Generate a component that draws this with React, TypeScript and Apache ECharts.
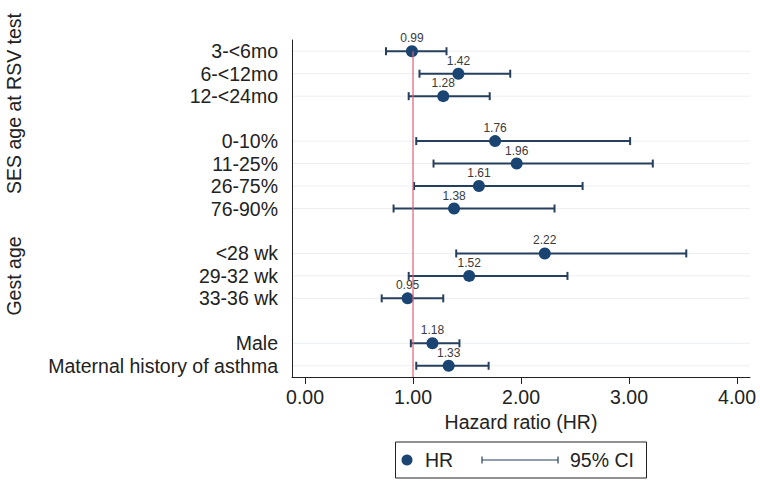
import React, { useEffect, useRef } from "react";
import * as echarts from "echarts";

const categories = [
  "3-<6mo",
  "6-<12mo",
  "12-<24mo",
  "0-10%",
  "11-25%",
  "26-75%",
  "76-90%",
  "<28 wk",
  "29-32 wk",
  "33-36 wk",
  "Male",
  "Maternal history of asthma",
];
const rowPositions = [0, 1, 2, 4, 5, 6, 7, 9, 10, 11, 13, 14];
const hr = [0.99, 1.42, 1.28, 1.76, 1.96, 1.61, 1.38, 2.22, 1.52, 0.95, 1.18, 1.33];
const ciLow = [0.75, 1.06, 0.96, 1.03, 1.19, 1.01, 0.82, 1.4, 0.96, 0.71, 0.98, 1.03];
const ciHigh = [1.31, 1.9, 1.71, 3.01, 3.22, 2.57, 2.31, 3.53, 2.43, 1.28, 1.43, 1.7];
const xTicks = [0, 1, 2, 3, 4];
const refValue = 1;
const groupTitles = ["SES age at RSV test", "Gest age"];
const legendLabels = ["HR", "95% CI"];

const FONT = "'Liberation Sans', Arial, sans-serif";
const NAVY = "#1a4573";
const CI_COLOR = "#263f5c";
const RED = "#de5f78";

export default function App() {
  const ref = useRef<HTMLDivElement>(null);

  useEffect(() => {
    if (!ref.current) return;
    const chart = echarts.init(ref.current, null, { renderer: "svg" });

    const ciData = rowPositions.map((r, i) => [ciLow[i], ciHigh[i], r]);
    const pointData = rowPositions.map((r, i) => [hr[i], r]);

    const option: any = {
      animation: false,
      backgroundColor: "#ffffff",
      textStyle: { fontFamily: FONT },
      grid: { left: 292, top: 40, width: 458, height: 337, containLabel: false },
      xAxis: {
        type: "value",
        min: -0.1204,
        max: 4.12,
        name: "Hazard ratio (HR)",
        nameLocation: "middle",
        nameGap: 31,
        nameTextStyle: { fontSize: 19.5, color: "#222", fontFamily: FONT },
        axisLine: { show: true, onZero: false, lineStyle: { color: "#222", width: 1 } },
        axisTick: {
          show: true,
          customValues: xTicks,
          length: 7,
          lineStyle: { color: "#222", width: 1 },
        },
        axisLabel: {
          customValues: xTicks,
          formatter: (v: number) => v.toFixed(2),
          fontSize: 19.5,
          color: "#222",
          margin: 10,
          fontFamily: FONT,
        },
        splitLine: { show: false },
      },
      yAxis: {
        type: "value",
        min: -0.5,
        max: 14.5,
        inverse: true,
        axisLine: { show: true, onZero: false, lineStyle: { color: "#222", width: 1 } },
        axisTick: { show: false },
        axisLabel: {
          customValues: rowPositions,
          formatter: (v: number) => {
            const idx = rowPositions.indexOf(Math.round(v));
            return idx >= 0 ? categories[idx] : "";
          },
          fontSize: 19.5,
          color: "#222",
          margin: 14,
          fontFamily: FONT,
        },
        splitLine: { show: false },
      },
      series: [
        {
          type: "custom",
          name: "grid",
          z: 1,
          silent: true,
          data: rowPositions.map((r) => [r]),
          encode: { y: 0 },
          renderItem: (params: any, api: any) => {
            const r = api.value(0);
            const p = api.coord([0, r]);
            const cs = params.coordSys;
            return {
              type: "line",
              shape: { x1: cs.x + 1, y1: p[1], x2: cs.x + cs.width, y2: p[1] },
              style: { stroke: "#eceff2", lineWidth: 1 },
            };
          },
        },
        {
          type: "custom",
          name: "95% CI",
          z: 2,
          data: ciData,
          encode: { x: [0, 1], y: 2 },
          renderItem: (params: any, api: any) => {
            const lo = api.coord([api.value(0), api.value(2)]);
            const hi = api.coord([api.value(1), api.value(2)]);
            const h = 4;
            const style = { stroke: CI_COLOR, lineWidth: 2 };
            return {
              type: "group",
              children: [
                { type: "line", shape: { x1: lo[0], y1: lo[1], x2: hi[0], y2: hi[1] }, style },
                { type: "line", shape: { x1: lo[0], y1: lo[1] - h, x2: lo[0], y2: lo[1] + h }, style },
                { type: "line", shape: { x1: hi[0], y1: hi[1] - h, x2: hi[0], y2: hi[1] + h }, style },
              ],
            };
          },
        },
        {
          type: "scatter",
          name: "HR",
          z: 3,
          symbol: "circle",
          symbolSize: 12,
          itemStyle: { color: NAVY, opacity: 1 },
          data: pointData,
          label: {
            show: true,
            position: "top",
            distance: 1,
            fontSize: 12,
            color: "#3a3a3a",
            fontFamily: FONT,
            formatter: (p: any) => Number(p.value[0]).toFixed(2),
          },
        },
        {
          type: "custom",
          name: "ref",
          z: 4,
          silent: true,
          data: [[refValue]],
          encode: { x: 0 },
          renderItem: (params: any, api: any) => {
            const a = api.coord([api.value(0), rowPositions[0]]);
            const b = api.coord([api.value(0), 14.5]);
            return {
              type: "line",
              shape: { x1: a[0], y1: a[1], x2: b[0], y2: b[1] },
              style: { stroke: RED, lineWidth: 1.2 },
            };
          },
        },
      ],
      graphic: [
        {
          type: "text",
          x: 14,
          y: 103.5,
          rotation: Math.PI / 2,
          style: {
            text: groupTitles[0],
            fontSize: 19.5,
            fontFamily: FONT,
            fill: "#222",
            align: "center",
            verticalAlign: "middle",
          },
        },
        {
          type: "text",
          x: 14,
          y: 276,
          rotation: Math.PI / 2,
          style: {
            text: groupTitles[1],
            fontSize: 19.5,
            fontFamily: FONT,
            fill: "#222",
            align: "center",
            verticalAlign: "middle",
          },
        },
        {
          type: "rect",
          shape: { x: 395.5, y: 442, width: 251, height: 36 },
          style: { fill: "#fff", stroke: "#222", lineWidth: 1 },
        },
        {
          type: "circle",
          shape: { cx: 407, cy: 460, r: 5.5 },
          style: { fill: NAVY },
        },
        {
          type: "text",
          x: 425,
          y: 460,
          style: {
            text: legendLabels[0],
            fontSize: 19.5,
            fontFamily: FONT,
            fill: "#222",
            align: "left",
            verticalAlign: "middle",
          },
        },
        {
          type: "line",
          shape: { x1: 482, y1: 460, x2: 558, y2: 460 },
          style: { stroke: CI_COLOR, lineWidth: 1.2 },
        },
        {
          type: "line",
          shape: { x1: 482, y1: 456.5, x2: 482, y2: 463.5 },
          style: { stroke: CI_COLOR, lineWidth: 1.2 },
        },
        {
          type: "line",
          shape: { x1: 558, y1: 456.5, x2: 558, y2: 463.5 },
          style: { stroke: CI_COLOR, lineWidth: 1.2 },
        },
        {
          type: "text",
          x: 570,
          y: 460,
          style: {
            text: legendLabels[1],
            fontSize: 19.5,
            fontFamily: FONT,
            fill: "#222",
            align: "left",
            verticalAlign: "middle",
          },
        },
      ],
    };

    chart.setOption(option);
    return () => chart.dispose();
  }, []);

  return (
    <div
      ref={ref}
      style={{ position: "absolute", left: 0, top: 0, width: 760, height: 484 }}
    />
  );
}
